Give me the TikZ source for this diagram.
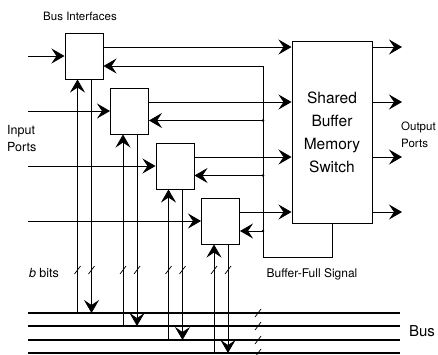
\documentclass[tikz,border=0pt]{standalone}
\usepackage{fontspec}
\setsansfont{TeX Gyre Heros}
\usetikzlibrary{arrows.meta}
\tikzset{
  ifc/.style    ={draw,line width=1pt,minimum width=38pt,minimum height=46pt,inner sep=0pt},
  swbox/.style  ={draw,line width=1pt,minimum width=80pt,minimum height=182pt,inner sep=0pt,
                  align=center,font=\sffamily\fontsize{15.5}{23}\selectfont},
  ar/.style     ={-{Stealth[length=13pt,width=15pt,inset=5pt]},line width=0.7pt},
  wire/.style   ={line width=0.7pt},
  busline/.style={line width=1.8pt},
  lbl/.style    ={font=\sffamily\fontsize{12.5}{17}\selectfont,inner sep=0pt,align=left},
}
\newcommand{\bitmark}[1]{\draw[wire] (#1) ++(-3,4) -- ++(6,-8);}

\begin{document}
\begin{tikzpicture}[x=1pt,y=-1pt]
\useasboundingbox (0,0) rectangle (438,354);
% Bus interfaces and switch
\node[ifc] (bi1) at (84,56) {};
\node[ifc] (bi2) at (129.5,111) {};
\node[ifc] (bi3) at (175,166) {};
\node[ifc] (bi4) at (220.5,221) {};
\node[swbox] (sw) at (332,132) {Shared\\Buffer\\Memory\\Switch};
% reference points
\coordinate (inx) at (28,0);
\coordinate (opx) at (402,0);
\coordinate (fbx) at (263,257);
\coordinate (tk) at (0,270);
\coordinate (b1w) at (28,313); \coordinate (b1e) at (400,313);
\coordinate (b2w) at (28,326); \coordinate (b2e) at (400,326);
\coordinate (b3w) at (28,340); \coordinate (b3e) at (400,340);
\coordinate (b4w) at (28,353); \coordinate (b4e) at (400,353);
% bus
\draw[busline] (b1w) -- (b1e);
\draw[busline] (b2w) -- (b2e);
\draw[busline] (b3w) -- (b3e);
\draw[busline] (b4w) -- (b4e);
% input ports
\draw[ar] (bi1.west -| inx) -- (bi1.west);
\draw[ar] (bi2.west -| inx) -- (bi2.west);
\draw[ar] (bi3.west -| inx) -- (bi3.west);
\draw[ar] (bi4.west -| inx) -- (bi4.west);
% interface to switch, switch to output ports
\coordinate (o1) at ([yshift=-14.5pt]bi1.north east);
\coordinate (o2) at ([yshift=-14.5pt]bi2.north east);
\coordinate (o3) at ([yshift=-14.5pt]bi3.north east);
\coordinate (o4) at ([yshift=-14.5pt]bi4.north east);
\draw[ar] (o1) -- (o1 -| sw.west);
\draw[ar] (o2) -- (o2 -| sw.west);
\draw[ar] (o3) -- (o3 -| sw.west);
\draw[ar] (o4) -- (o4 -| sw.west);
\draw[ar] (o1 -| sw.east) -- (o1 -| opx);
\draw[ar] (o2 -| sw.east) -- (o2 -| opx);
\draw[ar] (o3 -| sw.east) -- (o3 -| opx);
\draw[ar] (o4 -| sw.east) -- (o4 -| opx);
% buffer-full signal
\coordinate (f1) at ([yshift=-10pt]bi1.east);
\coordinate (f2) at ([yshift=-9.5pt]bi2.east);
\coordinate (f3) at ([yshift=-9.5pt]bi3.east);
\coordinate (f4) at ([yshift=-10pt]bi4.east);
\draw[ar] (sw.south) |- (fbx) |- (f1);
\draw[ar] (f2 -| fbx) -- (f2);
\draw[ar] (f3 -| fbx) -- (f3);
\draw[ar] (f4 -| fbx) -- (f4);
\fill (f2 -| fbx) circle (1.3pt);
\fill (f3 -| fbx) circle (1.3pt);
\fill (f4 -| fbx) circle (1.3pt);
% bus to interfaces and back
\coordinate (u1) at ([xshift=-6.5pt]bi1.south); \coordinate (d1) at ([xshift=7.5pt]bi1.south);
\coordinate (u2) at ([xshift=-6.5pt]bi2.south); \coordinate (d2) at ([xshift=7.5pt]bi2.south);
\coordinate (u3) at ([xshift=-6.5pt]bi3.south); \coordinate (d3) at ([xshift=7.5pt]bi3.south);
\coordinate (u4) at ([xshift=-6.5pt]bi4.south); \coordinate (d4) at ([xshift=7.5pt]bi4.south);
\draw[ar] (u1 |- b1w) -- (u1);
\draw[ar] (u2 |- b2w) -- (u2);
\draw[ar] (u3 |- b3w) -- (u3);
\draw[ar] (u4 |- b4w) -- (u4);
\draw[ar] (d1) -- (d1 |- b1w);
\draw[ar] (d2) -- (d2 |- b2w);
\draw[ar] (d3) -- (d3 |- b3w);
\draw[ar] (d4) -- (d4 |- b4w);
% b-bit marks
\bitmark{u1 |- tk} \bitmark{d1 |- tk}
\bitmark{u2 |- tk} \bitmark{d2 |- tk}
\bitmark{u3 |- tk} \bitmark{d3 |- tk}
\bitmark{u4 |- tk} \bitmark{d4 |- tk}
\bitmark{258,313} \bitmark{258,326} \bitmark{258,340} \bitmark{258,353}
% labels
\node[lbl,font=\sffamily\fontsize{11.5}{14}\selectfont] (lbus) at (80,16) {Bus Interfaces};
\node[lbl,anchor=west] (lin) at (7,139) {Input\\Ports};
\node[lbl,anchor=west,font=\sffamily\fontsize{11.5}{17}\selectfont] (lout) at (401,135) {Output\\Ports};
\node[lbl,font=\sffamily\fontsize{12}{14}\selectfont] (lbf) at (312,274) {Buffer-Full Signal};
\node[lbl] (lbits) at (44,273) {\textit{b} bits};
\node[lbl,font=\sffamily\fontsize{15}{18}\selectfont] (lbusr) at (422,331) {Bus};
\end{tikzpicture}
\end{document}
